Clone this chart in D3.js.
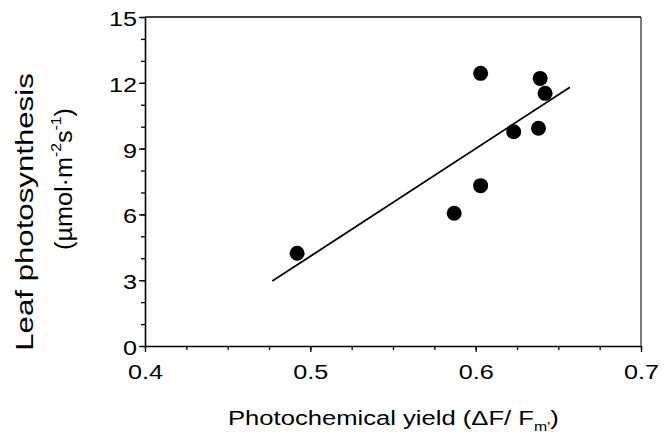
<!DOCTYPE html>
<html>
<head>
<meta charset="utf-8">
<script src="https://cdn.jsdelivr.net/npm/d3@7"></script>
<style>
  body { margin: 0; background: #fff; }
  text { font-family: "Liberation Sans", Arial, sans-serif; fill: #000; }
</style>
</head>
<body>
<script>
// data
var yieldValues = [0.492, 0.587, 0.603, 0.603, 0.623, 0.638, 0.639, 0.642];
var photoValues = [4.23, 6.05, 7.31, 12.43, 9.77, 9.93, 12.2, 11.52];
var fitX = [0.477, 0.657];
var fitY = [2.96, 11.8];
var xTicks = [0.4, 0.5, 0.6, 0.7];
var yTicks = [0, 3, 6, 9, 12, 15];

var margin = {top: 17, right: 30, bottom: 89, left: 145},
    width = 671 - margin.left - margin.right,
    height = 435 - margin.top - margin.bottom;

// the lettering in the original is wider than Arial
var stretch = 1.2;

var x = d3.scaleLinear().domain([0.4, 0.7]).range([0, width]);
var y = d3.scaleLinear().domain([0, 15]).range([height, 0]);

var svg = d3.select("body").append("svg")
    .attr("width", 671)
    .attr("height", 435);
var g = svg.append("g")
    .attr("transform", "translate(" + margin.left + "," + margin.top + ")");

// minor ticks
g.append("g")
    .attr("transform", "translate(0," + height + ")")
    .call(d3.axisBottom(x).tickValues(d3.range(0.4, 0.7001, 0.025)).tickSize(4).tickFormat(""))
    .call(function (a) { a.select(".domain").remove(); });
g.append("g")
    .call(d3.axisLeft(y).tickValues(d3.range(0, 15.01, 1)).tickSize(4).tickFormat(""))
    .call(function (a) { a.select(".domain").remove(); });

// main axes
g.append("g")
    .attr("class", "x-axis")
    .attr("transform", "translate(0," + height + ")")
    .call(d3.axisBottom(x).tickValues(xTicks).tickSize(6).tickSizeOuter(0).tickPadding(12).tickFormat(d3.format(".1f")));
g.append("g")
    .attr("class", "y-axis")
    .call(d3.axisLeft(y).tickValues(yTicks).tickSize(6).tickSizeOuter(0));

g.selectAll(".tick line").attr("stroke", "#000").attr("stroke-width", 1.3);
g.selectAll(".domain").attr("stroke", "#000").attr("stroke-width", 1.6);
g.selectAll(".tick text")
    .attr("font-size", 21)
    .attr("font-family", "Liberation Sans, Arial, sans-serif");
g.selectAll(".x-axis .tick text").attr("transform", "scale(" + stretch + ",1)");
g.selectAll(".y-axis .tick text")
    .attr("x", -8 / stretch)
    .attr("dy", "0.4em")
    .attr("transform", "scale(" + stretch + ",1)");

// frame top and right
g.append("line").attr("x1", 0).attr("x2", width).attr("y1", 0).attr("y2", 0)
    .attr("stroke", "#000").attr("stroke-width", 1.6);
g.append("line").attr("x1", width).attr("x2", width).attr("y1", 0).attr("y2", height)
    .attr("stroke", "#333").attr("stroke-width", 1.3);

// fitted line
g.append("path")
    .datum(d3.zip(fitX, fitY))
    .attr("fill", "none")
    .attr("stroke", "#000")
    .attr("stroke-width", 1.8)
    .attr("d", d3.line().x(function (d) { return x(d[0]); }).y(function (d) { return y(d[1]); }));

// points
g.selectAll("circle")
    .data(d3.zip(yieldValues, photoValues))
    .enter().append("circle")
    .attr("cx", function (d) { return x(d[0]); })
    .attr("cy", function (d) { return y(d[1]); })
    .attr("r", 7.5)
    .attr("fill", "#000");

// x title
var xt = svg.append("text")
    .attr("transform", "translate(228,425) scale(1.22,1)")
    .attr("font-size", 21);
xt.append("tspan").text("Photochemical yield (\u0394F/ F");
xt.append("tspan").attr("font-size", 13).attr("dy", 6).text("m'");
xt.append("tspan").attr("dy", -6).text(")");

// y title, two lines
svg.append("text")
    .attr("transform", "translate(33,212) rotate(-90) scale(1.3,1)")
    .attr("text-anchor", "middle")
    .attr("font-size", 24)
    .text("Leaf photosynthesis");
var yt = svg.append("text")
    .attr("transform", "translate(72,179) rotate(-90) scale(1.05,1)")
    .attr("text-anchor", "middle")
    .attr("font-size", 24);
yt.append("tspan").text("(\u00B5mol\u00B7m");
yt.append("tspan").attr("font-size", 15).attr("dy", -11).text("-2");
yt.append("tspan").attr("dy", 11).text("s");
yt.append("tspan").attr("font-size", 15).attr("dy", -11).text("-1");
yt.append("tspan").attr("dy", 11).text(")");
</script>
</body>
</html>
